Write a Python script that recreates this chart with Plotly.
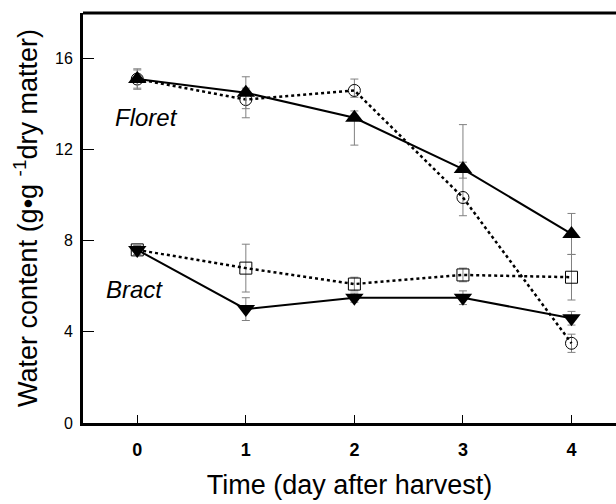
import plotly.graph_objects as go

days = [0, 1, 2, 3, 4]

floret_a = [15.1, 14.5, 13.4, 11.15, 8.3]
floret_a_err_plus = [0.45, 0.7, 0.3, 0.3, 0.9]
floret_a_err_minus = [0.45, 0.7, 1.2, 0.4, 0.9]

floret_b = [15.1, 14.2, 14.6, 9.9, 3.5]
floret_b_err_plus = [0.4, 0.5, 0.5, 3.2, 0.4]
floret_b_err_minus = [0.4, 0.8, 0.3, 0.8, 0.4]

bract_a = [7.6, 5.0, 5.5, 5.5, 4.6]
bract_a_err = [0.2, 0.5, 0.2, 0.3, 0.3]

bract_b = [7.6, 6.8, 6.1, 6.5, 6.4]
bract_b_err = [0.2, 1.05, 0.3, 0.3, 1.0]

x_ticks = [0, 1, 2, 3, 4]
y_ticks = [0, 4, 8, 12, 16]

FONT = "Liberation Sans, Arial, Helvetica"

fig = go.Figure()

def err(plus, minus=None):
    d = dict(type="data", array=plus, visible=True, color="#808080", thickness=1, width=4)
    if minus is not None:
        d["symmetric"] = False
        d["arrayminus"] = minus
    return d

fig.add_trace(go.Scatter(
    x=days, y=bract_b, mode="lines+markers",
    line=dict(color="black", width=2.5, dash="3px,3px"),
    marker=dict(symbol="square-open", size=12, color="black", line=dict(width=1)),
    error_y=err(bract_b_err)))
fig.add_trace(go.Scatter(
    x=days, y=bract_a, mode="lines+markers",
    line=dict(color="black", width=2),
    marker=dict(symbol="triangle-down", size=16, color="black"),
    error_y=err(bract_a_err)))
fig.add_trace(go.Scatter(
    x=days, y=floret_b, mode="lines+markers",
    line=dict(color="black", width=2.5, dash="3px,3px"),
    marker=dict(symbol="circle-open", size=12, color="black", line=dict(width=1)),
    error_y=err(floret_b_err_plus, floret_b_err_minus)))
fig.add_trace(go.Scatter(
    x=days, y=floret_a, mode="lines+markers",
    line=dict(color="black", width=2),
    marker=dict(symbol="triangle-up", size=16, color="black"),
    error_y=err(floret_a_err_plus, floret_a_err_minus)))

fig.add_annotation(x=-0.22, y=13.4, text="Floret", showarrow=False,
                   font=dict(family=FONT, size=24, color="black", style="italic"),
                   xanchor="left", yanchor="middle")
fig.add_annotation(x=-0.31, y=5.86, text="Bract", showarrow=False,
                   font=dict(family=FONT, size=24, color="black", style="italic"),
                   xanchor="left", yanchor="middle")

fig.add_shape(type="line", xref="paper", yref="paper", x0=0, x1=1, y0=1, y1=1,
              line=dict(color="black", width=3))

fig.update_layout(
    width=616, height=504,
    margin=dict(l=83, r=0, t=13, b=81),
    paper_bgcolor="white", plot_bgcolor="white",
    showlegend=False,
    font=dict(family=FONT, color="black"),
    xaxis=dict(range=[-0.5, 4.41], tickvals=x_ticks, ticktext=[f"<b>{t}</b>" for t in x_ticks],
               ticks="inside", ticklen=8, tickwidth=1, tickcolor="black",
               showline=True, linecolor="black", linewidth=3, showgrid=False, zeroline=False,
               tickfont=dict(size=18), ticklabelstandoff=8,
               title=dict(text="Time (day after harvest)", font=dict(size=27), standoff=17)),
    yaxis=dict(range=[0, 18.0], tickvals=y_ticks,
               ticks="inside", ticklen=11, tickwidth=1, tickcolor="black",
               showline=True, linecolor="black", linewidth=3, showgrid=False, zeroline=False,
               tickfont=dict(size=16), ticklabelstandoff=4,
               title=dict(text="Water content (g•g <sup>-1</sup>dry matter)", font=dict(size=27), standoff=10)),
)

fig.write_html("out.html")
